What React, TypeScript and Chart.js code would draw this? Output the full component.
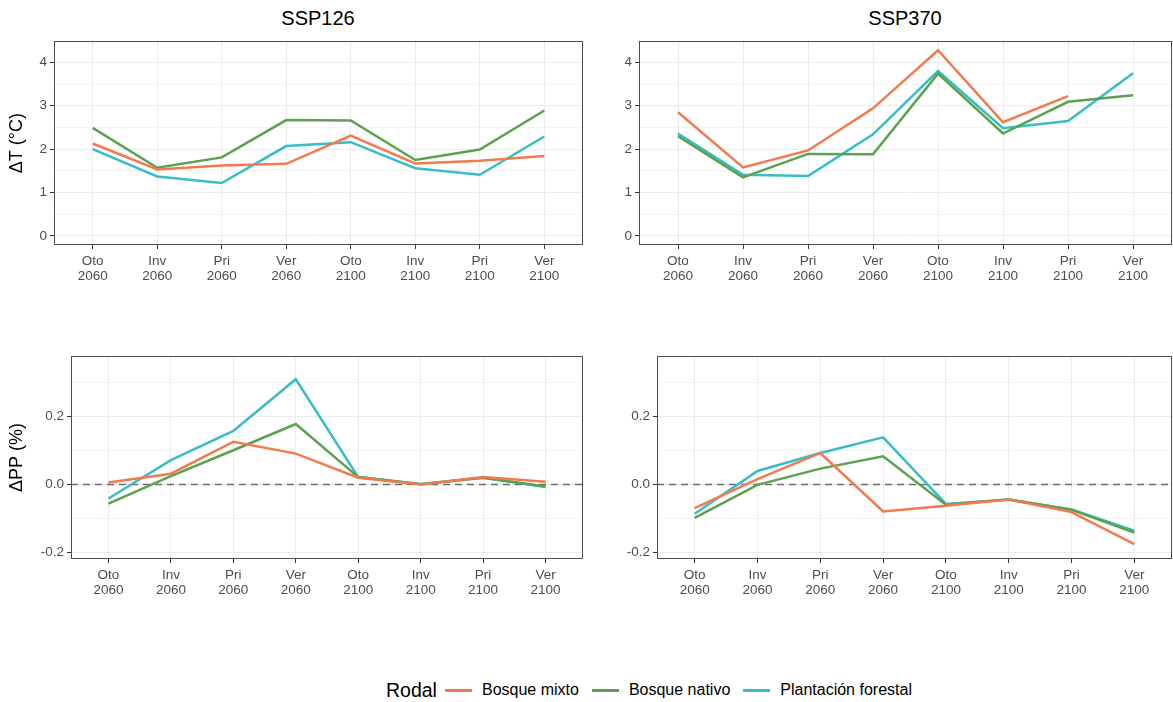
import React, { useEffect, useRef } from "react";
import { Chart, registerables } from "chart.js";
Chart.register(...registerables);

const FONT = '"Liberation Sans", Arial, Helvetica, sans-serif';

// ---- categories ----
const seasons = ["Oto", "Inv", "Pri", "Ver", "Oto", "Inv", "Pri", "Ver"];
const years = ["2060", "2060", "2060", "2060", "2100", "2100", "2100", "2100"];
const xPositions = [1, 2, 3, 4, 5, 6, 7, 8];

// ---- series ----
const seriesNames = ["Bosque mixto", "Bosque nativo", "Plantación forestal"];
const seriesColors = ["#F37A4D", "#5AA24E", "#38BDC6"];

// ΔT SSP126
const dT126Mixto = [2.13, 1.53, 1.62, 1.66, 2.31, 1.67, 1.73, 1.84];
const dT126Nativo = [2.49, 1.57, 1.81, 2.67, 2.66, 1.75, 1.99, 2.89];
const dT126Plantacion = [2.0, 1.37, 1.22, 2.07, 2.16, 1.56, 1.41, 2.29];
// ΔT SSP370
const dT370Mixto = [2.85, 1.58, 1.97, 2.94, 4.28, 2.62, 3.22, null];
const dT370Nativo = [2.3, 1.35, 1.89, 1.88, 3.74, 2.36, 3.09, 3.24];
const dT370Plantacion = [2.36, 1.41, 1.38, 2.34, 3.8, 2.48, 2.65, 3.75];
// ΔPP SSP126
const dPP126Mixto = [0.005, 0.031, 0.125, 0.09, 0.019, -0.001, 0.021, 0.007];
const dPP126Nativo = [-0.057, 0.024, 0.1, 0.177, 0.021, 0.0, 0.019, -0.007];
const dPP126Plantacion = [-0.042, 0.071, 0.157, 0.309, 0.021, 0.001, 0.019, -0.008];
// ΔPP SSP370
const dPP370Mixto = [-0.07, 0.015, 0.092, -0.08, -0.063, -0.045, -0.082, -0.176];
const dPP370Nativo = [-0.099, -0.002, 0.046, 0.082, -0.06, -0.045, -0.075, -0.142];
const dPP370Plantacion = [-0.087, 0.039, 0.092, 0.138, -0.058, -0.045, -0.074, -0.137];

// ---- y ticks ----
const yTicksT = [0, 0.5, 1, 1.5, 2, 2.5, 3, 3.5, 4];
const yMajorStepT = 1;
const yTicksPP = [-0.2, -0.1, 0, 0.1, 0.2, 0.3];
const yMajorStepPP = 0.2;

const panelTitles = ["SSP126", "SSP370"];
const yTitles = ["ΔT (°C)", "ΔPP (%)"];
const legendTitle = "Rodal";

type Rect = { l: number; t: number; r: number; b: number };

type PanelProps = {
  plot: Rect;
  canvas: Rect;
  series: (number | null)[][];
  yMin: number;
  yMax: number;
  yTicks: number[];
  majorStep: number;
  decimals: number;
  yTitle?: string;
  zeroLine?: boolean;
};

function isMajor(v: number, step: number) {
  const q = v / step;
  return Math.abs(q - Math.round(q)) < 1e-6;
}

function Panel(p: PanelProps) {
  const ref = useRef<HTMLCanvasElement | null>(null);
  useEffect(() => {
    if (!ref.current) return;
    const yAxisW = p.plot.l - p.canvas.l;
    const xAxisH = p.canvas.b - p.plot.b;
    const borderPlugin = {
      id: "panelBorder",
      beforeDatasetsDraw(chart: any) {
        if (!p.zeroLine) return;
        const { ctx, chartArea } = chart;
        const y = Math.round(chart.scales.y.getPixelForValue(0)) + 0.5;
        ctx.save();
        ctx.strokeStyle = "#6b6b6b";
        ctx.lineWidth = 1.3;
        ctx.setLineDash([7, 5]);
        ctx.beginPath();
        ctx.moveTo(chartArea.left, y);
        ctx.lineTo(chartArea.right, y);
        ctx.stroke();
        ctx.restore();
      },
      afterDraw(chart: any) {
        const { ctx, chartArea } = chart;
        ctx.save();
        ctx.strokeStyle = "#4d4d4d";
        ctx.lineWidth = 1;
        ctx.strokeRect(
          Math.round(chartArea.left) + 0.5,
          Math.round(chartArea.top) + 0.5,
          Math.round(chartArea.right - chartArea.left) - 1,
          Math.round(chartArea.bottom - chartArea.top) - 1
        );
        ctx.restore();
      },
    };
    const chart = new Chart(ref.current, {
      type: "line",
      data: {
        datasets: p.series.map((vals, si) => ({
          label: seriesNames[si],
          data: vals.map((y, i) => ({ x: xPositions[i], y })),
          borderColor: seriesColors[si],
          backgroundColor: seriesColors[si],
          borderWidth: 2.5,
          pointRadius: 0,
          tension: 0,
          spanGaps: false,
        })),
      },
      options: {
        animation: false,
        responsive: false,
        maintainAspectRatio: false,
        events: [],
        layout: {
          padding: { top: p.plot.t - p.canvas.t, right: p.canvas.r - p.plot.r, left: 0, bottom: 0 },
        },
        plugins: { legend: { display: false }, tooltip: { enabled: false }, title: { display: false } },
        scales: {
          x: {
            type: "linear",
            min: 0.4,
            max: 8.6,
            afterBuildTicks: (scale: any) => {
              scale.ticks = xPositions.map((v) => ({ value: v }));
            },
            afterFit: (scale: any) => {
              scale.height = xAxisH;
            },
            border: { display: false },
            grid: {
              color: "#EBEBEB",
              lineWidth: 1,
              drawTicks: true,
              tickLength: 4,
              tickColor: "#333333",
            },
            ticks: {
              autoSkip: false,
              maxRotation: 0,
              minRotation: 0,
              padding: 5,
              color: "#4D4D4D",
              font: { family: FONT, size: 13.5, lineHeight: 1.12 },
              callback: (v: any) => {
                const i = Math.round(Number(v)) - 1;
                return [seasons[i], years[i]];
              },
            },
          },
          y: {
            type: "linear",
            min: p.yMin,
            max: p.yMax,
            afterBuildTicks: (scale: any) => {
              scale.ticks = p.yTicks.map((v) => ({ value: v }));
            },
            afterFit: (scale: any) => {
              scale.width = yAxisW;
            },
            border: { display: false },
            title: {
              display: !!p.yTitle,
              text: p.yTitle || "",
              color: "#000000",
              font: { family: FONT, size: 18 },
              padding: { top: 6, bottom: 0 },
            },
            grid: {
              color: "#EBEBEB",
              lineWidth: (ctx: any) => (ctx.tick && isMajor(ctx.tick.value, p.majorStep) ? 1 : 0.6),
              drawTicks: true,
              tickLength: 4,
              tickColor: (ctx: any) =>
                ctx.tick && isMajor(ctx.tick.value, p.majorStep) ? "#333333" : "rgba(0,0,0,0)",
            },
            ticks: {
              autoSkip: false,
              padding: 3,
              color: "#4D4D4D",
              font: { family: FONT, size: 13.5 },
              callback: (v: any) => {
                const n = Number(v);
                if (!isMajor(n, p.majorStep)) return "";
                return p.decimals > 0 ? n.toFixed(p.decimals) : String(Math.round(n));
              },
            },
          },
        },
      } as any,
      plugins: [borderPlugin],
    });
    return () => chart.destroy();
  }, []);
  const cw = p.canvas.r - p.canvas.l;
  const ch = p.canvas.b - p.canvas.t;
  return (
    <canvas
      ref={ref}
      width={cw}
      height={ch}
      style={{ position: "absolute", left: p.canvas.l, top: p.canvas.t, width: cw, height: ch }}
    />
  );
}

export default function App() {
  const titleStyle: React.CSSProperties = {
    position: "absolute",
    top: 5,
    width: 200,
    textAlign: "center",
    fontFamily: FONT,
    fontSize: 20,
    color: "#000",
    lineHeight: "26px",
  };
  const keyStyle = (c: string): React.CSSProperties => ({
    display: "inline-block",
    width: 27,
    height: 3,
    background: c,
    margin: "0 10px 0 8px",
  });
  return (
    <div
      style={{
        position: "fixed",
        left: 0,
        top: 0,
        width: 1173,
        height: 702,
        background: "#fff",
        overflow: "hidden",
      }}
    >
      <div style={{ ...titleStyle, left: 318 - 100 }}>{panelTitles[0]}</div>
      <div style={{ ...titleStyle, left: 905 - 100 }}>{panelTitles[1]}</div>
      <Panel
        plot={{ l: 54, t: 37, r: 583, b: 245 }}
        canvas={{ l: 0, t: 30, r: 592, b: 305 }}
        series={[dT126Mixto, dT126Nativo, dT126Plantacion]}
        yMin={-0.21}
        yMax={4.49}
        yTicks={yTicksT}
        majorStep={yMajorStepT}
        decimals={0}
        yTitle={yTitles[0]}
      />
      <Panel
        plot={{ l: 639, t: 37, r: 1172, b: 245 }}
        canvas={{ l: 598, t: 30, r: 1173, b: 305 }}
        series={[dT370Mixto, dT370Nativo, dT370Plantacion]}
        yMin={-0.21}
        yMax={4.49}
        yTicks={yTicksT}
        majorStep={yMajorStepT}
        decimals={0}
      />
      <Panel
        plot={{ l: 71, t: 352, r: 583, b: 559 }}
        canvas={{ l: 0, t: 345, r: 592, b: 620 }}
        series={[dPP126Mixto, dPP126Nativo, dPP126Plantacion]}
        yMin={-0.22}
        yMax={0.377}
        yTicks={yTicksPP}
        majorStep={yMajorStepPP}
        decimals={1}
        yTitle={yTitles[1]}
        zeroLine
      />
      <Panel
        plot={{ l: 657, t: 352, r: 1172, b: 559 }}
        canvas={{ l: 598, t: 345, r: 1173, b: 620 }}
        series={[dPP370Mixto, dPP370Nativo, dPP370Plantacion]}
        yMin={-0.22}
        yMax={0.377}
        yTicks={yTicksPP}
        majorStep={yMajorStepPP}
        decimals={1}
        zeroLine
      />
      <div
        style={{
          position: "absolute",
          left: 386,
          top: 678,
          height: 24,
          display: "flex",
          alignItems: "center",
          fontFamily: FONT,
          whiteSpace: "nowrap",
        }}
      >
        <span style={{ fontSize: 19.5, color: "#000" }}>{legendTitle}</span>
        {seriesNames.map((n, i) => (
          <React.Fragment key={n}>
            <span style={keyStyle(seriesColors[i])} />
            <span style={{ fontSize: 16, color: "#000", marginRight: 5 }}>{n}</span>
          </React.Fragment>
        ))}
      </div>
    </div>
  );
}
